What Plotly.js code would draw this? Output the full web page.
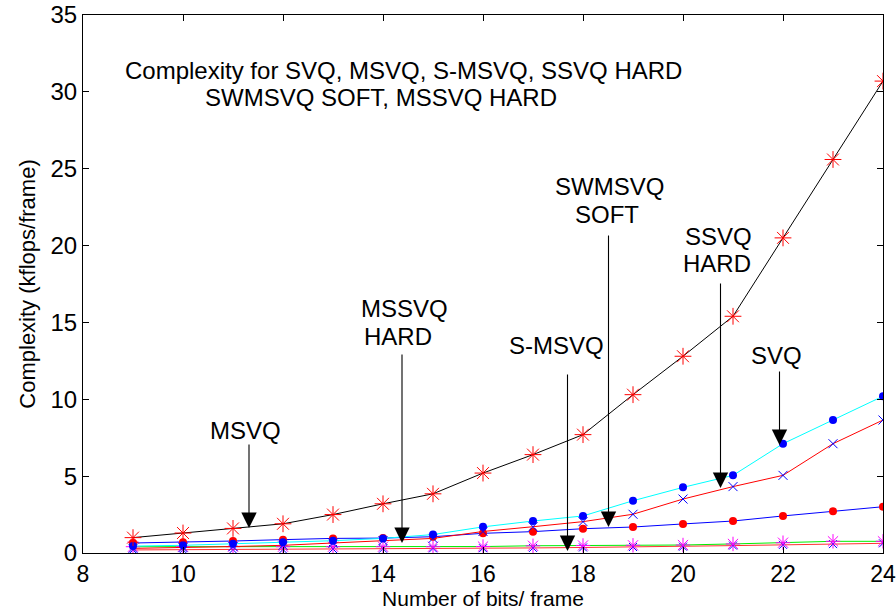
<!DOCTYPE html>
<html>
<head>
<meta charset="utf-8">
<script src="https://cdn.plot.ly/plotly-3.0.1.min.js"></script>
<style>html,body{margin:0;padding:0;background:#fff;}#chart{width:896px;height:610px;}</style>
</head>
<body>
<div id="chart"></div>
<script>
// Number of bits per frame
const bits = [9, 10, 11, 12, 13, 14, 15, 16, 17, 18, 19, 20, 21, 22, 23, 24];
// Complexity (kflops/frame) for each curve
const seriesTop    = [1.0, 1.3, 1.6, 1.9, 2.5, 3.2, 3.85, 5.2, 6.4, 7.7, 10.3, 12.8, 15.4, 20.5, 25.6, 30.7];
const seriesCyan   = [0.45, 0.5, 0.6, 0.7, 0.8, 0.95, 1.2, 1.7, 2.08, 2.41, 3.4, 4.27, 5.05, 7.11, 8.65, 10.2];
const seriesRedX   = [0.3, 0.35, 0.42, 0.5, 0.63, 0.8, 0.95, 1.4, 1.71, 2.04, 2.52, 3.51, 4.32, 5.05, 7.11, 8.65];
const seriesBlue   = [0.65, 0.7, 0.78, 0.87, 0.95, 0.97, 1.06, 1.28, 1.39, 1.58, 1.69, 1.89, 2.08, 2.41, 2.71, 3.01];
const seriesGreen  = [0.41, 0.41, 0.41, 0.41, 0.41, 0.41, 0.41, 0.42, 0.47, 0.49, 0.5, 0.52, 0.59, 0.67, 0.76, 0.76];
const seriesLow    = [0.2, 0.21, 0.22, 0.23, 0.26, 0.28, 0.3, 0.31, 0.33, 0.36, 0.39, 0.41, 0.48, 0.53, 0.58, 0.63];
const xTicks = [8, 10, 12, 14, 16, 18, 20, 22, 24];
const yTicks = [0, 5, 10, 15, 20, 25, 30, 35];
const titleLines = ['Complexity for SVQ, MSVQ, S-MSVQ, SSVQ HARD', 'SWMSVQ SOFT, MSSVQ HARD'];

const FONT = 'Liberation Sans, Arial, Helvetica, sans-serif';
const FS = 24;

const traces = [
  {x: bits, y: seriesLow, mode: 'lines+markers', line: {color: '#ff3030', width: 1},
   marker: {symbol: 'x-thin-open', size: 8, color: '#0000ff', line: {color: '#0000ff', width: 1}}},
  {x: bits, y: seriesGreen, mode: 'lines+markers', line: {color: '#00ee00', width: 1},
   marker: {symbol: 'asterisk-open', size: 12, color: '#ff00ff', line: {color: '#ff00ff', width: 1}}},
  {x: bits, y: seriesBlue, mode: 'lines+markers', line: {color: '#0000ff', width: 1},
   marker: {symbol: 'circle', size: 8, color: '#ff0000'}},
  {x: bits, y: seriesRedX, mode: 'lines+markers', line: {color: '#ff0000', width: 1},
   marker: {symbol: 'x-thin-open', size: 9, color: '#0000ff', line: {color: '#0000ff', width: 1}}},
  {x: bits, y: seriesCyan, mode: 'lines+markers', line: {color: '#00ffff', width: 1},
   marker: {symbol: 'circle', size: 8, color: '#0000ff'}},
  {x: bits, y: seriesTop, mode: 'lines+markers', line: {color: '#000000', width: 1},
   marker: {symbol: 'asterisk-open', size: 14, color: '#ff0000', line: {color: '#ff0000', width: 1}}}
];

function label(text, x, y, xanchor) {
  return {text: text, x: x, y: y, xref: 'x', yref: 'y', showarrow: false,
          xanchor: xanchor || 'center', yanchor: 'middle',
          font: {family: FONT, size: FS, color: '#000'}};
}
function arrow(x, y, ay) {
  return {text: '', x: x, y: y, xref: 'x', yref: 'y', showarrow: true, ax: 0, ay: ay,
          arrowhead: 2, arrowsize: 2.8, arrowwidth: 1.1, arrowcolor: '#000', standoff: 0};
}

const annotations = [
  label(titleLines[0], 8.8, 31.4, 'left'),
  label(titleLines[1], 10.4, 29.62, 'left'),
  label('MSVQ', 11.24, 8.0),
  label('MSSVQ', 14.42, 15.88),
  label('HARD', 14.3, 14.11),
  label('S-MSVQ', 17.47, 13.53),
  label('SWMSVQ', 18.52, 23.82),
  label('SOFT', 18.48, 22.05),
  label('SSVQ', 20.7, 20.6),
  label('HARD', 20.68, 18.83),
  label('SVQ', 21.86, 12.88),
  arrow(11.32, 1.63, -85),
  arrow(14.38, 0.65, -190),
  arrow(17.69, 0.13, -178),
  arrow(18.51, 1.69, -293),
  arrow(20.75, 4.23, -206),
  arrow(21.93, 7.03, -75)
];

const layout = {
  width: 896, height: 610,
  margin: {l: 83, r: 13, t: 15, b: 57},
  paper_bgcolor: '#fff', plot_bgcolor: '#fff',
  showlegend: false,
  font: {family: FONT, size: FS, color: '#000'},
  xaxis: {range: [8, 24], tickvals: xTicks, ticktext: xTicks.map(String),
          ticks: 'inside', ticklen: 6, tickcolor: '#000', showgrid: false, zeroline: false,
          showline: true, linecolor: '#000', linewidth: 1, mirror: 'allticks',
          ticklabeloverflow: 'allow',
          tickfont: {family: FONT, size: 23, color: '#000'},
          title: {text: 'Number of bits/ frame', font: {family: FONT, size: 21, color: '#000'}, standoff: 3}},
  yaxis: {range: [0, 35], tickvals: yTicks, ticktext: yTicks.map(String),
          ticks: 'inside', ticklen: 6, tickcolor: '#000', showgrid: false, zeroline: false,
          showline: true, linecolor: '#000', linewidth: 1, mirror: 'allticks',
          tickfont: {family: FONT, size: FS, color: '#000'},
          title: {text: 'Complexity (kflops/frame)', font: {family: FONT, size: 22, color: '#000'}, standoff: 8}},
  annotations: annotations
};

Plotly.newPlot('chart', traces, layout, {displayModeBar: false, staticPlot: true});
</script>
</body>
</html>
